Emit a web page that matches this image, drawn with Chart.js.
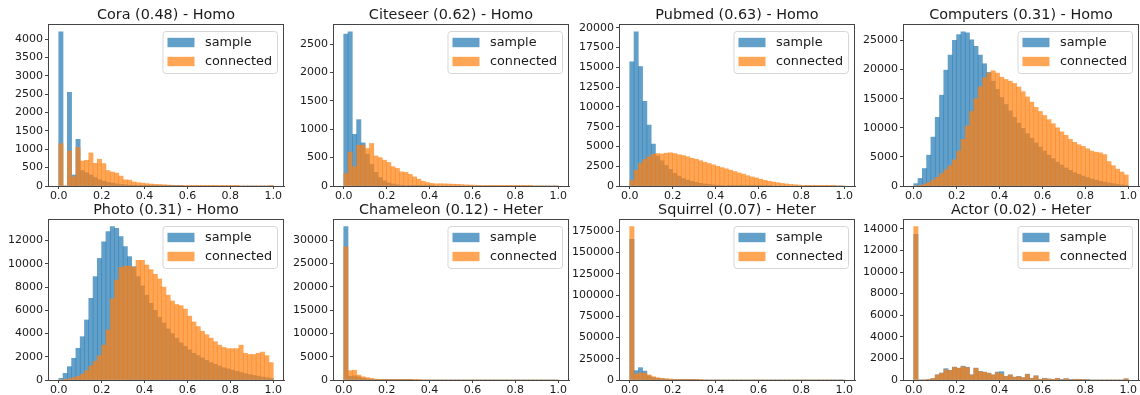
<!DOCTYPE html>
<html>
<head>
<meta charset="utf-8">
<script src="https://cdn.jsdelivr.net/npm/chart.js@4.4.1/dist/chart.umd.min.js"></script>
<style>
html, body { margin: 0; padding: 0; background: #fff; overflow: hidden; }
#wrap { position: relative; width: 1140px; height: 395px; }
#wrap canvas { position: absolute; }
</style>
</head>
<body>
<div id="wrap"></div>
<script>
// histogram bins: 50 bins of width 0.02 over [0, 1]
var binCenters = [
    0.01, 0.03, 0.05, 0.07, 0.09, 0.11, 0.13, 0.15, 0.17, 0.19,
    0.21, 0.23, 0.25, 0.27, 0.29, 0.31, 0.33, 0.35, 0.37, 0.39,
    0.41, 0.43, 0.45, 0.47, 0.49, 0.51, 0.53, 0.55, 0.57, 0.59,
    0.61, 0.63, 0.65, 0.67, 0.69, 0.71, 0.73, 0.75, 0.77, 0.79,
    0.81, 0.83, 0.85, 0.87, 0.89, 0.91, 0.93, 0.95, 0.97, 0.99
];
var seriesNames = ['sample', 'connected'];

var coraSample = [
    4200, 0, 2550, 300, 1270, 420, 360, 300, 230, 170,
    130, 100, 80, 60, 45, 35, 25, 20, 15, 10,
    8, 6, 5, 4, 3, 2, 2, 1, 1, 0,
    0, 0, 0, 0, 0, 0, 0, 0, 0, 0,
    0, 0, 0, 0, 0, 0, 0, 0, 0, 0
];
var coraConnected = [
    1150, 0, 950, 250, 1050, 680, 700, 900, 620, 730,
    610, 420, 380, 350, 270, 170, 160, 110, 90, 80,
    65, 55, 45, 40, 35, 25, 20, 18, 15, 12,
    10, 8, 6, 5, 4, 3, 3, 2, 2, 1,
    1, 1, 0, 0, 0, 0, 0, 0, 0, 1
];
var citeseerSample = [
    2680, 2720, 910, 1170, 760, 560, 380, 240, 150, 90,
    55, 35, 22, 14, 9, 6, 4, 3, 2, 1,
    1, 0, 0, 0, 0, 0, 0, 0, 0, 0,
    0, 0, 0, 0, 0, 0, 0, 0, 0, 0,
    0, 0, 0, 0, 0, 0, 0, 0, 0, 0
];
var citeseerConnected = [
    220, 600, 340, 720, 720, 660, 750, 530, 500, 455,
    415, 340, 310, 250, 240, 205, 160, 120, 85, 60,
    45, 38, 40, 38, 35, 32, 30, 25, 20, 18,
    15, 12, 8, 6, 5, 4, 3, 3, 2, 2,
    1, 1, 1, 1, 0, 0, 0, 0, 0, 0
];
var pubmedSample = [
    15700, 19500, 15100, 10700, 7700, 5300, 3800, 3200, 2600, 2100,
    1600, 1250, 950, 750, 580, 450, 340, 260, 200, 150,
    110, 80, 60, 45, 35, 25, 18, 12, 8, 5,
    3, 2, 1, 0, 0, 0, 0, 0, 0, 0,
    0, 0, 0, 0, 0, 0, 0, 0, 0, 0
];
var pubmedConnected = [
    700, 2000, 2850, 3350, 3700, 4000, 4100, 4050, 4150, 4200,
    4100, 3950, 3850, 3700, 3500, 3380, 3200, 3000, 2850, 2680,
    2500, 2320, 2180, 2000, 1830, 1650, 1500, 1300, 1150, 1020,
    860, 720, 600, 500, 420, 330, 260, 200, 170, 120,
    80, 45, 25, 12, 6, 3, 2, 1, 0, 0
];
var computersSample = [
    400, 1300, 3000, 5300, 8400, 11800, 15600, 19900, 22500, 25000,
    26000, 26500, 26300, 25100, 24000, 22500, 21000, 19500, 18000, 16600,
    15200, 14000, 12900, 11800, 10800, 9900, 9000, 8200, 7400, 6700,
    6000, 5300, 4700, 4100, 3600, 3100, 2700, 2300, 2000, 1700,
    1450, 1200, 1000, 820, 660, 520, 400, 300, 210, 130
];
var computersConnected = [
    0, 100, 300, 600, 1000, 1500, 2100, 2800, 3500, 4500,
    6000, 8000, 10300, 12800, 15000, 17000, 18600, 19400, 19800, 19400,
    18700, 18300, 18000, 17600, 17000, 16200, 15300, 14400, 13500, 12800,
    12100, 11400, 10700, 10000, 9300, 8700, 8000, 7500, 7100, 6800,
    6400, 6000, 5800, 5700, 5400, 4200, 3500, 2900, 2400, 1900
];
var photoSample = [
    140, 570, 1150, 1870, 2730, 3730, 5170, 7030, 8900, 10470,
    11900, 12770, 13200, 13060, 12340, 11480, 10620, 9760, 8900, 8100,
    7300, 6600, 6000, 5400, 4900, 4400, 4000, 3600, 3200, 2900,
    2600, 2300, 2100, 1900, 1700, 1500, 1350, 1200, 1050, 950,
    850, 750, 650, 550, 470, 400, 330, 260, 200, 140
];
var photoConnected = [
    0, 30, 100, 200, 320, 500, 800, 1200, 1600, 2100,
    3000, 4300, 7000, 8600, 9700, 9800, 9800, 9700, 10300, 10300,
    9900, 9500, 9100, 8700, 8000, 7300, 6800, 6500, 6400, 6100,
    5500, 5000, 4600, 4200, 3900, 3600, 3300, 3000, 2800, 2700,
    2700, 2700, 3000, 2300, 2200, 2200, 2300, 2400, 2100, 1500
];
var chameleonSample = [
    32900, 800, 900, 700, 400, 250, 150, 100, 50, 30,
    20, 10, 5, 3, 2, 1, 0, 0, 0, 0,
    0, 0, 0, 0, 0, 0, 0, 0, 0, 0,
    0, 0, 0, 0, 0, 0, 0, 0, 0, 0,
    0, 0, 0, 0, 0, 0, 0, 0, 0, 0
];
var chameleonConnected = [
    28600, 2000, 2100, 1070, 700, 500, 350, 200, 150, 80,
    50, 30, 20, 10, 5, 3, 2, 1, 0, 0,
    0, 0, 0, 0, 0, 0, 0, 0, 0, 0,
    0, 0, 0, 0, 0, 0, 0, 0, 0, 0,
    0, 0, 0, 0, 0, 0, 0, 0, 0, 0
];
var squirrelSample = [
    165500, 11000, 14500, 10500, 5000, 3000, 2000, 1400, 1000, 700,
    500, 300, 200, 100, 50, 30, 0, 0, 0, 0,
    0, 0, 0, 0, 0, 0, 0, 0, 0, 0,
    0, 0, 0, 0, 0, 0, 0, 0, 0, 0,
    0, 0, 0, 0, 0, 0, 0, 0, 0, 0
];
var squirrelConnected = [
    180500, 7000, 8500, 8000, 5900, 3900, 2700, 2000, 1500, 1200,
    800, 500, 300, 200, 100, 50, 20, 0, 0, 0,
    0, 0, 0, 0, 0, 0, 0, 0, 0, 0,
    0, 0, 0, 0, 0, 0, 0, 0, 0, 0,
    0, 0, 0, 0, 0, 0, 0, 0, 0, 0
];
var actorSample = [
    13500, 0, 0, 50, 140, 480, 650, 1050, 900, 1200,
    1100, 1280, 1180, 480, 1100, 800, 730, 640, 480, 740,
    770, 330, 480, 270, 330, 220, 540, 160, 390, 70,
    160, 100, 40, 160, 10, 130, 10, 70, 70, 40,
    10, 0, 0, 0, 0, 0, 0, 0, 0, 110
];
var actorConnected = [
    14200, 0, 0, 60, 150, 460, 620, 950, 870, 1170,
    1080, 1240, 1140, 460, 1080, 770, 710, 620, 460, 680,
    560, 310, 460, 250, 310, 200, 520, 150, 370, 60,
    150, 90, 30, 150, 0, 120, 0, 60, 60, 30,
    0, 0, 0, 0, 0, 0, 0, 0, 0, 120
];

var titles = [
    'Cora (0.48) - Homo', 'Citeseer (0.62) - Homo', 'Pubmed (0.63) - Homo', 'Computers (0.31) - Homo',
    'Photo (0.31) - Homo', 'Chameleon (0.12) - Heter', 'Squirrel (0.07) - Heter', 'Actor (0.02) - Heter'
];
var sampleSeries = [coraSample, citeseerSample, pubmedSample, computersSample,
    photoSample, chameleonSample, squirrelSample, actorSample];
var connectedSeries = [coraConnected, citeseerConnected, pubmedConnected, computersConnected,
    photoConnected, chameleonConnected, squirrelConnected, actorConnected];
var yStep = [500, 500, 2500, 5000, 2000, 5000, 25000, 2000];
var xTickValues = [0, 0.2, 0.4, 0.6, 0.8, 1.0];

// layout of the 4x2 grid (plot-box left edges / top edges)
var colLeft = [48, 333, 619, 903];
var rowTop = [24, 219];
var rowHeight = [162, 161];
var plotWidth = 236;
var axisW = 48, titleH = 24, xAxisH = 22;

var FONT = '"DejaVu Sans", sans-serif';
var blue = 'rgba(31, 119, 180, 0.7)';
var orange = 'rgba(255, 127, 14, 0.7)';
var spine = '#444';

function toPoints(vals) {
    return vals.map(function(v, i) { return { x: binCenters[i], y: v }; });
}

// title, top/right spines and the framed legend (matplotlib style)
var decor = {
    id: 'decor',
    afterDraw: function(chart, args, opts) {
        var ctx = chart.ctx, ca = chart.chartArea;
        ctx.save();
        ctx.strokeStyle = spine;
        ctx.lineWidth = 1;
        ctx.strokeRect(Math.round(ca.left) + 0.5, Math.round(ca.top) + 0.5,
            Math.round(ca.right - ca.left) - 1, Math.round(ca.bottom - ca.top));

        ctx.fillStyle = '#1a1a1a';
        ctx.font = '14.4px ' + FONT;
        ctx.textAlign = 'center';
        ctx.textBaseline = 'middle';
        ctx.fillText(opts.title, (ca.left + ca.right) / 2, ca.top - 8.5);

        ctx.font = '12.8px ' + FONT;
        var tw = Math.max.apply(null, seriesNames.map(function(s) { return ctx.measureText(s).width; }));
        var w = 5 + 27 + 10.5 + tw + 5, h = 42;
        var x0 = ca.right - 7 - w, y0 = ca.top + 7;
        ctx.beginPath();
        ctx.roundRect(x0 + 0.5, y0 + 0.5, w, h, 3);
        ctx.fillStyle = 'rgba(255,255,255,0.8)';
        ctx.fill();
        ctx.strokeStyle = '#d6d6d6';
        ctx.stroke();
        var cols = [blue, orange];
        ctx.textAlign = 'left';
        for (var i = 0; i < seriesNames.length; i++) {
            var cy = y0 + 11.5 + i * 19;
            ctx.fillStyle = cols[i];
            ctx.fillRect(x0 + 5, cy - 4.7, 27, 9.4);
            ctx.fillStyle = '#1a1a1a';
            ctx.fillText(seriesNames[i], x0 + 5 + 27 + 10.5, cy + 0.5);
        }
        ctx.restore();
    }
};

var wrap = document.getElementById('wrap');
titles.forEach(function(title, k) {
    var col = k % 4, row = Math.floor(k / 4);
    var cv = document.createElement('canvas');
    var cw = axisW + plotWidth + 2;
    var ch = titleH + rowHeight[row] + xAxisH;
    cv.width = cw;
    cv.height = ch;
    cv.style.left = (colLeft[col] - axisW) + 'px';
    cv.style.top = (rowTop[row] - titleH) + 'px';
    wrap.appendChild(cv);

    var s = sampleSeries[k], c = connectedSeries[k];
    var ymax = Math.max(Math.max.apply(null, s), Math.max.apply(null, c)) * 1.05;

    new Chart(cv, {
        type: 'bar',
        data: {
            datasets: [{
                label: seriesNames[0],
                data: toPoints(s),
                backgroundColor: blue,
                borderWidth: 0,
                grouped: false,
                barPercentage: 1,
                categoryPercentage: 1,
                order: 1
            }, {
                label: seriesNames[1],
                data: toPoints(c),
                backgroundColor: orange,
                borderWidth: 0,
                grouped: false,
                barPercentage: 1,
                categoryPercentage: 1,
                order: 0
            }]
        },
        options: {
            responsive: false,
            animation: false,
            events: [],
            layout: { padding: { top: titleH, right: 2, left: 0, bottom: 0 } },
            plugins: {
                legend: { display: false },
                tooltip: { enabled: false },
                decor: { title: title }
            },
            scales: {
                x: {
                    type: 'linear',
                    min: -0.05,
                    max: 1.05,
                    offset: false,
                    grid: { display: true, drawOnChartArea: false, drawTicks: true, tickLength: 3, color: spine, offset: false },
                    border: { display: true, color: spine },
                    afterBuildTicks: function(scale) {
                        scale.ticks = xTickValues.map(function(v) { return { value: v }; });
                    },
                    ticks: {
                        autoSkip: false,
                        maxRotation: 0,
                        padding: 1,
                        color: '#1a1a1a',
                        font: { family: FONT, size: 11 },
                        callback: function(v) { return v.toFixed(1); }
                    },
                    afterFit: function(scale) { scale.height = xAxisH; }
                },
                y: {
                    min: 0,
                    max: ymax,
                    grid: { display: true, drawOnChartArea: false, drawTicks: true, tickLength: 3, color: spine },
                    border: { display: true, color: spine },
                    afterBuildTicks: function(scale) {
                        var t = [];
                        for (var v = 0; v <= scale.max; v += yStep[k]) t.push({ value: v });
                        scale.ticks = t;
                    },
                    ticks: {
                        autoSkip: false,
                        padding: 2,
                        color: '#1a1a1a',
                        font: { family: FONT, size: 11 },
                        callback: function(v) { return String(v); }
                    },
                    afterFit: function(scale) { scale.width = axisW; }
                }
            }
        },
        plugins: [decor]
    });
});
</script>
</body>
</html>
